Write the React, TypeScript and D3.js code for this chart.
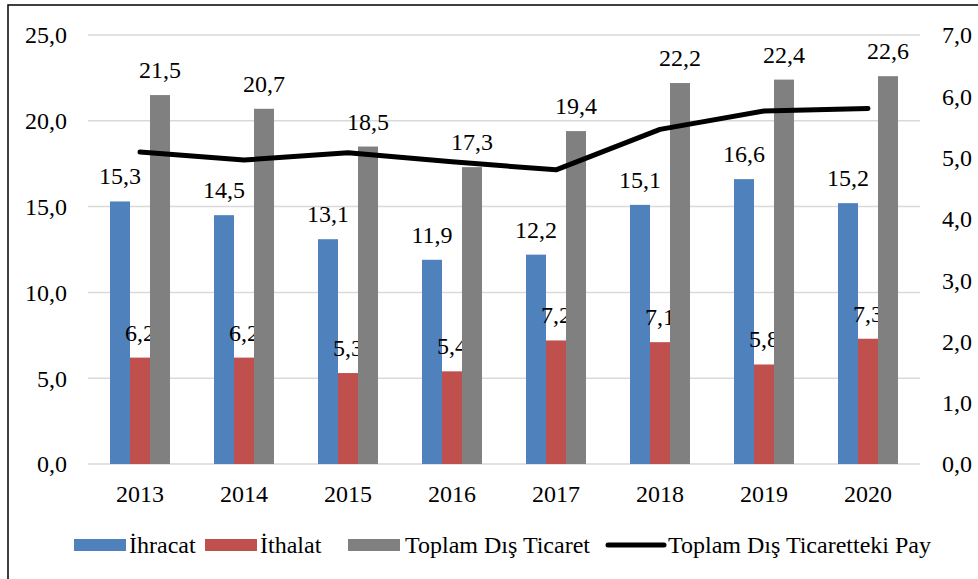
import * as d3 from "d3";
import { useEffect, useRef } from "react";

const years = ["2013", "2014", "2015", "2016", "2017", "2018", "2019", "2020"];
const ihracat = [15.3, 14.5, 13.1, 11.9, 12.2, 15.1, 16.6, 15.2];
const ithalat = [6.2, 6.2, 5.3, 5.4, 7.2, 7.1, 5.8, 7.3];
const toplam = [21.5, 20.7, 18.5, 17.3, 19.4, 22.2, 22.4, 22.6];
const pay = [5.09, 4.96, 5.08, 4.93, 4.8, 5.46, 5.76, 5.8];
const leftTicks = [0, 5, 10, 15, 20, 25];
const rightTicks = [0, 1, 2, 3, 4, 5, 6, 7];

export default function App() {
  const ref = useRef<HTMLDivElement>(null);

  useEffect(() => {
    const width = 978;
    const height = 579;
    const margin = { top: 35, right: 58, bottom: 115, left: 88 };
    const font = "Times New Roman, Liberation Serif, DejaVu Serif, serif";
    const fs = 24;

    d3.select(ref.current).select("svg").remove();

    const svg = d3
      .select(ref.current)
      .append("svg")
      .attr("width", width)
      .attr("height", height)
      .attr("font-family", font)
      .style("position", "absolute")
      .style("left", 0)
      .style("top", 0);

    svg.append("rect").attr("width", width).attr("height", height).attr("fill", "#fff");
    // outer frame
    svg
      .append("rect")
      .attr("x", 8)
      .attr("y", 5)
      .attr("width", width + 10)
      .attr("height", height + 10)
      .attr("fill", "none")
      .attr("stroke", "#000")
      .attr("stroke-width", 1.5);

    const x = d3
      .scaleBand()
      .domain(years)
      .range([margin.left, width - margin.right]);

    const y = d3
      .scaleLinear()
      .domain([0, 25])
      .range([height - margin.bottom, margin.top]);

    const y2 = d3
      .scaleLinear()
      .domain([0, 7])
      .range([height - margin.bottom, margin.top]);

    // gridlines
    svg
      .append("g")
      .selectAll("line")
      .data(leftTicks)
      .enter()
      .append("line")
      .attr("x1", margin.left)
      .attr("x2", width - margin.right)
      .attr("y1", (d) => y(d))
      .attr("y2", (d) => y(d))
      .attr("stroke", "#d9d9d9")
      .attr("stroke-width", 1.5);

    const fmt = (d: number) => d.toFixed(1).replace(".", ",");

    // left axis labels
    svg
      .append("g")
      .selectAll("text")
      .data(leftTicks)
      .enter()
      .append("text")
      .attr("x", 67)
      .attr("y", (d) => y(d))
      .attr("dy", "0.35em")
      .attr("text-anchor", "end")
      .attr("font-size", fs)
      .text(fmt);

    // right axis labels
    svg
      .append("g")
      .selectAll("text")
      .data(rightTicks)
      .enter()
      .append("text")
      .attr("x", 942)
      .attr("y", (d) => y2(d))
      .attr("dy", "0.35em")
      .attr("text-anchor", "start")
      .attr("font-size", fs)
      .text(fmt);

    // x labels
    svg
      .append("g")
      .selectAll("text")
      .data(years)
      .enter()
      .append("text")
      .attr("x", (d) => x(d)! + x.bandwidth() / 2)
      .attr("y", 502)
      .attr("text-anchor", "middle")
      .attr("font-size", fs)
      .text((d) => d);

    const barW = 20;
    const series = [
      { values: ihracat, color: "#4f81bd", off: -30 },
      { values: ithalat, color: "#c0504d", off: -10 },
      { values: toplam, color: "#808080", off: 10 },
    ];

    series.forEach((s) => {
      const g = svg.append("g");
      g.selectAll("rect")
        .data(s.values)
        .enter()
        .append("rect")
        .attr("x", (d, i) => x(years[i])! + x.bandwidth() / 2 + s.off)
        .attr("y", (d) => y(d))
        .attr("width", barW)
        .attr("height", (d) => y(0) - y(d))
        .attr("fill", s.color);

      g.selectAll("text")
        .data(s.values)
        .enter()
        .append("text")
        .attr("x", (d, i) => x(years[i])! + x.bandwidth() / 2 + s.off + barW / 2)
        .attr("y", (d) => y(d) - 17)
        .attr("text-anchor", "middle")
        .attr("font-size", fs)
        .text(fmt);
    });

    // line on right axis
    const line = d3
      .line<number>()
      .x((d, i) => x(years[i])! + x.bandwidth() / 2)
      .y((d) => y2(d));

    svg
      .append("path")
      .datum(pay)
      .attr("d", line)
      .attr("fill", "none")
      .attr("stroke", "#000")
      .attr("stroke-width", 5)
      .attr("stroke-linecap", "round")
      .attr("stroke-linejoin", "round");

    // legend
    const ly = 545;
    const legend = svg.append("g").attr("font-size", fs);
    const items = [
      { label: "İhracat", color: "#4f81bd", x0: 74, tx: 129, type: "rect" },
      { label: "İthalat", color: "#c0504d", x0: 205, tx: 260, type: "rect" },
      { label: "Toplam Dış Ticaret", color: "#808080", x0: 348, tx: 405, type: "rect" },
      { label: "Toplam Dış Ticaretteki Pay", color: "#000", x0: 608, tx: 668, type: "line" },
    ];
    items.forEach((it) => {
      if (it.type === "rect") {
        legend
          .append("rect")
          .attr("x", it.x0)
          .attr("y", ly - 6)
          .attr("width", 52)
          .attr("height", 12)
          .attr("fill", it.color);
      } else {
        legend
          .append("line")
          .attr("x1", it.x0)
          .attr("x2", it.x0 + 56)
          .attr("y1", ly)
          .attr("y2", ly)
          .attr("stroke", it.color)
          .attr("stroke-width", 5)
          .attr("stroke-linecap", "round");
      }
      legend
        .append("text")
        .attr("x", it.tx)
        .attr("y", ly)
        .attr("dy", "0.35em")
        .text(it.label);
    });
  }, []);

  return <div ref={ref}></div>;
}
